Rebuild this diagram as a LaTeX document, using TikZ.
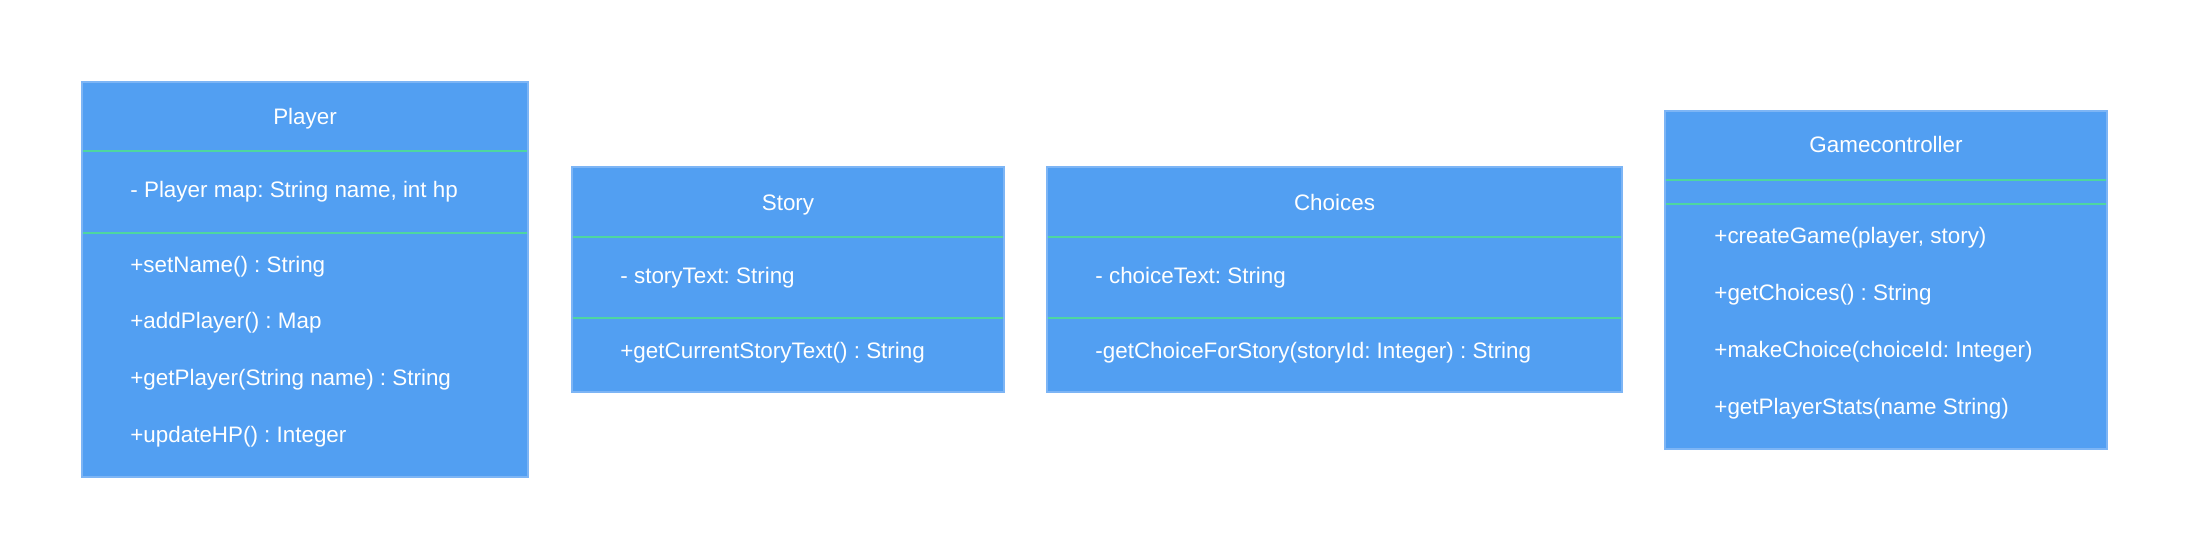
\documentclass[tikz,border=0pt]{standalone}
\usepackage{fontspec}
\setmainfont{Liberation Sans}
\frenchspacing
\definecolor{boxfill}{RGB}{82,159,242}
\definecolor{boxedge}{RGB}{125,181,245}
\definecolor{divline}{RGB}{78,214,160}
\tikzset{
  classbox/.style={fill=boxfill,draw=boxedge,line width=0.6pt},
  divider/.style={draw=divline,line width=0.8pt},
  title/.style={text=white,anchor=mid,font=\fontsize{11.2}{14}\selectfont,inner sep=0pt},
  member/.style={text=white,anchor=mid west,font=\fontsize{11.2}{14}\selectfont,inner sep=0pt}
}
\begin{document}
\begin{tikzpicture}[x=0.5pt,y=-0.5pt]
\useasboundingbox (0,0) rectangle (2188,559);
% Player
\draw[classbox] (82,82) rectangle (528,477);
\draw[divider] (83,151)--(527,151);
\draw[divider] (83,233)--(527,233);
\node[title] (playerT) at (305,119){Player};
\node[member] (playerA) at (130,192){- Player map: String name, int hp};
\node[member] (playerM1) at (130,267){+setName() : String};
\node[member] (playerM2) at (130,323){+addPlayer() : Map};
\node[member] (playerM3) at (130,380){+getPlayer(String name) : String};
\node[member] (playerM4) at (130,437){+updateHP() : Integer};
% Story
\draw[classbox] (572,167) rectangle (1004,392);
\draw[divider] (573,237)--(1003,237);
\draw[divider] (573,318)--(1003,318);
\node[title] (storyT) at (788,205){Story};
\node[member] (storyA) at (620,278){- storyText: String};
\node[member] (storyM1) at (620,353){+getCurrentStoryText() : String};
% Choices
\draw[classbox] (1047,167) rectangle (1622,392);
\draw[divider] (1048,237)--(1621,237);
\draw[divider] (1048,318)--(1621,318);
\node[title] (choicesT) at (1334.5,205){Choices};
\node[member] (choicesA) at (1095,278){- choiceText: String};
\node[member] (choicesM1) at (1095,353){-getChoiceForStory(storyId: Integer) : String};
% Gamecontroller
\draw[classbox] (1665,111) rectangle (2107,449);
\draw[divider] (1666,180)--(2106,180);
\draw[divider] (1666,204)--(2106,204);
\node[title] (gameT) at (1886,147){Gamecontroller};
\node[member] (gameM1) at (1714,238){+createGame(player, story)};
\node[member] (gameM2) at (1714,295){+getChoices() : String};
\node[member] (gameM3) at (1714,352){+makeChoice(choiceId: Integer)};
\node[member] (gameM4) at (1714,409){+getPlayerStats(name String)};
\end{tikzpicture}
\end{document}
